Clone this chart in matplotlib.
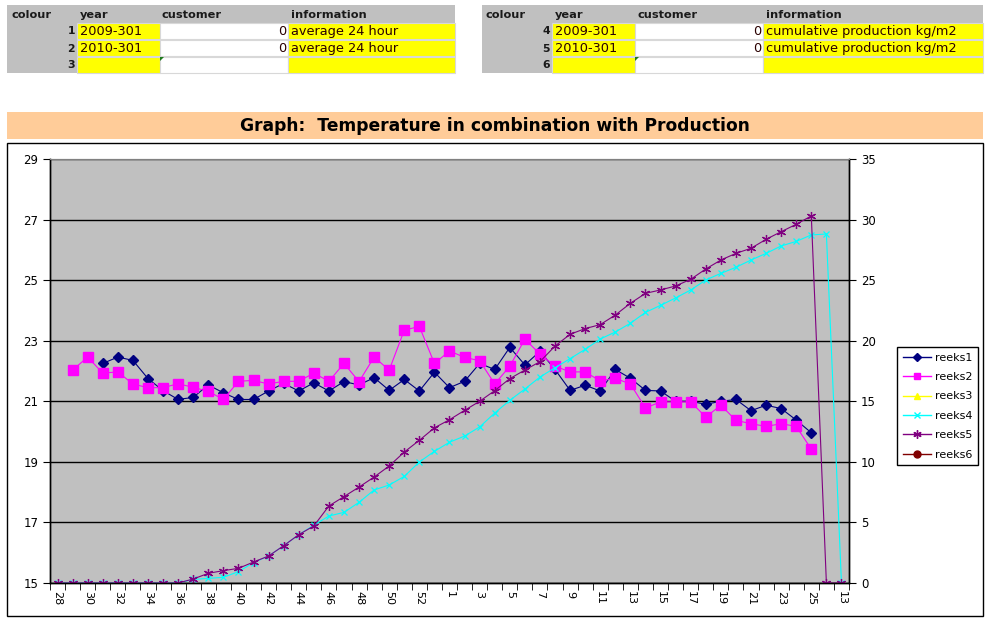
import numpy as np
import matplotlib.pyplot as plt
from matplotlib.patches import Rectangle, Polygon
from matplotlib.lines import Line2D

# ----------------------------------------------------------------------
# data
# ----------------------------------------------------------------------
weeks = ['28', '29', '30', '31', '32', '33', '34', '35', '36', '37', '38', '39', '40',
         '41', '42', '43', '44', '45', '46', '47', '48', '49', '50', '51', '52', '53',
         '1', '2', '3', '4', '5', '6', '7', '8', '9', '10', '11', '12', '13', '14',
         '15', '16', '17', '18', '19', '20', '21', '22', '23', '24', '25', '26', '13']

N = None
reeks1 = [N, N, N, 22.25, 22.46, 22.35, 21.75, 21.35, 21.06, 21.13, 21.54, 21.28, 21.06,
          21.06, 21.34, 21.59, 21.34, 21.61, 21.34, 21.65, 21.54, 21.78, 21.36, 21.72, 21.34,
          21.96, 21.45, 21.66, 22.25, 22.05, 22.78, 22.20, 22.65, 22.05, 21.36, 21.53, 21.34,
          22.05, 21.76, 21.36, 21.34, 21.00, 21.00, 20.90, 21.00, 21.06, 20.69, 20.87, 20.76,
          20.38, 19.96, N, N]
reeks2 = [N, 22.03, 22.46, 21.93, 21.97, 21.57, 21.45, 21.45, 21.58, 21.46, 21.33, 21.06,
          21.66, 21.69, 21.57, 21.66, 21.66, 21.93, 21.66, 22.25, 21.65, 22.46, 22.03, 23.35,
          23.47, 22.25, 22.66, 22.45, 22.34, 21.57, 22.16, 23.05, 22.56, 22.16, 21.97, 21.97,
          21.67, 21.76, 21.57, 20.78, 20.98, 20.98, 20.98, 20.48, 20.87, 20.37, 20.26, 20.17,
          20.26, 20.17, 19.42, N, N]
reeks3 = []
reeks4 = [0, 0, 0, 0, 0, 0, 0, 0, 0, 0.30, 0.38, 0.47, 0.94, 1.68, 2.23, 3.08, 3.99, 4.77,
          5.53, 5.83, 6.66, 7.68, 8.09, 8.80, 9.99, 10.87, 11.62, 12.13, 12.88, 14.03, 15.08,
          16.01, 17.00, 17.77, 18.52, 19.29, 20.14, 20.72, 21.44, 22.34, 22.92, 23.53, 24.19,
          25.01, 25.56, 26.06, 26.66, 27.21, 27.82, 28.20, 28.73, 28.81, 0]
reeks5 = [0, 0, 0, 0, 0, 0, 0, 0, 0, 0.33, 0.80, 1.02, 1.21, 1.73, 2.23, 3.08, 3.99, 4.71,
          6.36, 7.13, 7.92, 8.75, 9.66, 10.81, 11.78, 12.81, 13.48, 14.25, 15.00, 15.88, 16.87,
          17.58, 18.27, 19.56, 20.53, 21.00, 21.33, 22.12, 23.09, 23.91, 24.19, 24.52, 25.07,
          25.92, 26.66, 27.21, 27.63, 28.37, 29.00, 29.61, 30.30, 0, 0]
reeks6 = []

# header tables
tbl_cols = ['colour', 'year', 'customer', 'information']
left_nums = ['1', '2', '3']
left_years = ['2009-301', '2010-301', '']
left_cust = ['0', '0', '']
left_info = ['average 24 hour', 'average 24 hour', '']
right_nums = ['4', '5', '6']
right_years = ['2009-301', '2010-301', '']
right_cust = ['0', '0', '']
right_info = ['cumulative production kg/m2', 'cumulative production kg/m2', '']

title = 'Graph:  Temperature in combination with Production'

W, H = 986, 622
fig = plt.figure(figsize=(W / 100, H / 100), dpi=100)

# background axes in pixel coordinates for the sheet decorations
bg = fig.add_axes([0, 0, 1, 1])
bg.set_xlim(0, W)
bg.set_ylim(H, 0)
bg.axis('off')

GRAY = '#c0c0c0'
YEL = '#ffff00'
TXT = '#2a0000'


def draw_table(x0, x_end, xs, nums, years, cust, info):
    # xs: left edges of year, customer, information columns
    bg.add_patch(Rectangle((x0, 5), x_end - x0, 68, facecolor=GRAY, edgecolor='none'))
    hx = [x0 + 4, xs[0] + 3, xs[1] + 2, xs[2] + 3]
    for name, hxx in zip(tbl_cols, hx):
        bg.text(hxx, 14.5, name, fontsize=8.2, fontweight='bold', color='#1a1a1a',
                va='center', ha='left')
    row_tops = [23, 40, 57]
    for r, top in enumerate(row_tops):
        h = 16
        bg.add_patch(Rectangle((xs[0], top), xs[1] - xs[0], h, facecolor=YEL,
                               edgecolor='#d8d8d8', lw=0.8))
        bg.add_patch(Rectangle((xs[1], top), xs[2] - xs[1], h, facecolor='white',
                               edgecolor='#d8d8d8', lw=0.8))
        bg.add_patch(Rectangle((xs[2], top), x_end - xs[2], h, facecolor=YEL,
                               edgecolor='#d8d8d8', lw=0.8))
        cy = top + h / 2 + 0.5
        bg.text(xs[0] - 2, cy, nums[r], fontsize=7.8, fontweight='bold', color='#1a1a1a',
                ha='right', va='center')
        bg.text(xs[0] + 3, cy, years[r], fontsize=9.3, color=TXT, ha='left', va='center')
        bg.text(xs[2] - 2, cy, cust[r], fontsize=9.3, color=TXT, ha='right', va='center')
        bg.text(xs[2] + 3, cy, info[r], fontsize=9.3, color=TXT, ha='left', va='center')
    # small green corner mark on the empty customer cell
    t = row_tops[2]
    bg.add_patch(Polygon([[xs[1], t], [xs[1] + 4, t], [xs[1], t + 4]],
                         closed=True, facecolor='#1f7a1f', edgecolor='none'))


draw_table(7, 455, [77, 160, 288], left_nums, left_years, left_cust, left_info)
draw_table(482, 983, [552, 635, 763], right_nums, right_years, right_cust, right_info)

# title bar
bg.add_patch(Rectangle((7, 112), 976, 27, facecolor='#ffcc99', edgecolor='none'))
bg.text(495, 126, title, fontsize=12.3, fontweight='bold', ha='center', va='center',
        color='black')

# chart frame
bg.add_patch(Rectangle((7, 143), 976, 473, facecolor='white', edgecolor='black', lw=1))

# ----------------------------------------------------------------------
# chart
# ----------------------------------------------------------------------
px0, px1, py0, py1 = 50, 849, 159, 583
ax = fig.add_axes([px0 / W, (H - py1) / H, (px1 - px0) / W, (py1 - py0) / H])
ax.set_facecolor(GRAY)

x = np.arange(len(weeks))
r1 = np.array(reeks1, dtype=float)
r2 = np.array(reeks2, dtype=float)
r4 = np.array(reeks4, dtype=float)
r5 = np.array(reeks5, dtype=float)

ax.plot(x, r1, color='#000080', lw=0.8, marker='D', ms=5, mec='#000080', mfc='#000080')
ax.plot(x, r2, color='#ff00ff', lw=0.8, marker='s', ms=7, mec='#ff00ff', mfc='#ff00ff')
ax.set_xlim(-0.5, len(weeks) - 0.5)
ax.set_ylim(15, 29)
ax.set_yticks(np.arange(15, 30, 2))
ax.yaxis.grid(True, color='black', lw=1)
ax.set_axisbelow(True)

ax2 = ax.twinx()
ax2.plot(x, r4, color='#00ffff', lw=0.8, marker='x', ms=5, mew=0.9)
ax2.plot(x, r5, color='#800080', lw=0.8, marker=(6, 2, 0), ms=6.5, mew=0.9)
ax2.set_ylim(0, 35)
ax2.set_yticks(np.arange(0, 36, 5))

# x axis: labels on every other category, tick marks between categories
ax.set_xticks(x[::2])
ax.set_xticklabels(weeks[::2], rotation=270, fontsize=8)
ax.set_xticks(np.arange(-0.5, len(weeks), 1), minor=True)
ax.tick_params(axis='x', which='major', length=0, pad=6)
ax.tick_params(axis='x', which='minor', length=5, direction='out', color='black')
ax.tick_params(axis='y', length=5, direction='out', labelsize=8.5, color='black')
ax2.tick_params(axis='y', length=5, direction='out', labelsize=8.5, color='black')

for a in (ax, ax2):
    a.spines['top'].set_color('#808080')
    for s in ('left', 'right', 'bottom'):
        a.spines[s].set_color('black')
        a.spines[s].set_linewidth(1)

# legend
handles = [
    Line2D([0], [0], color='#000080', marker='D', ms=4, lw=1),
    Line2D([0], [0], color='#ff00ff', marker='s', ms=5, lw=1),
    Line2D([0], [0], color='#ffff00', marker='^', ms=5, lw=1),
    Line2D([0], [0], color='#00ffff', marker='x', ms=5, lw=1),
    Line2D([0], [0], color='#800080', marker=(6, 2, 0), ms=6, lw=1),
    Line2D([0], [0], color='#800000', marker='o', ms=5, lw=1),
]
labels = ['reeks1', 'reeks2', 'reeks3', 'reeks4', 'reeks5', 'reeks6']
leg = fig.legend(handles, labels, loc='upper left', bbox_to_anchor=(897 / W, 1 - 347 / H),
                 bbox_transform=fig.transFigure, fontsize=8, frameon=True, fancybox=False,
                 edgecolor='black', framealpha=1, borderaxespad=0, borderpad=0.5,
                 labelspacing=0.85, handlelength=2.6, handletextpad=0.3)
leg.get_frame().set_linewidth(1)

fig.savefig('out.png', dpi=100)
